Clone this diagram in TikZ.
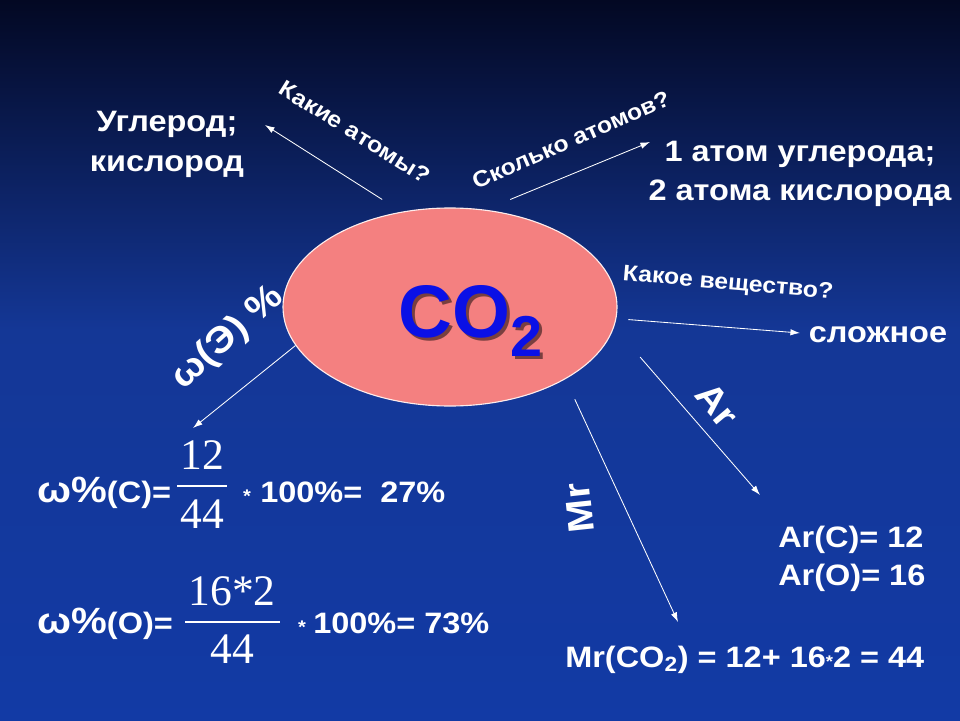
\documentclass[tikz,border=0pt]{standalone}
\usepackage{fontspec}
\setmainfont{Liberation Sans}[FakeStretch=1.1]
\newfontfamily\plainsans{Liberation Sans}
\newfontfamily\serifnum{Liberation Serif}
\usetikzlibrary{shapes.geometric,arrows.meta}
\definecolor{bgtop}{RGB}{3,8,35}
\definecolor{bgmid}{RGB}{20,55,150}
\definecolor{bgbot}{RGB}{18,58,165}
\definecolor{salmon}{RGB}{244,128,128}
\definecolor{coblue}{RGB}{10,16,230}
\tikzset{
  lbl/.style={text=white, font=\bfseries\fontsize{21}{28}\selectfont, inner sep=0pt},
  qlbl/.style={text=white, font=\bfseries\fontsize{16}{19}\selectfont, inner sep=0pt},
  biglbl/.style={text=white, font=\bfseries\fontsize{26}{30}\selectfont, inner sep=0pt},
  fraclbl/.style={text=white, font=\serifnum\fontsize{31}{34}\selectfont, inner sep=0pt},
  starlbl/.style={text=white, font=\bfseries\fontsize{13}{13}\selectfont, inner sep=0pt, anchor=base},
  bar/.style={white, line width=1.4pt},
}
\newcommand{\cotwo}{\plainsans\bfseries\fontsize{53}{60}\selectfont CO\raisebox{-14pt}{\fontsize{41}{41}\selectfont 2}}

\begin{document}
\begin{tikzpicture}[>={Latex[length=2.4mm,width=1.6mm]}]
\useasboundingbox (0,0) rectangle (24,18);
% background
\shade[top color=bgtop, bottom color=bgmid] (0,9.75) rectangle (24,18);
\shade[top color=bgmid, bottom color=bgbot] (0,0) rectangle (24,9.75);

\node[ellipse, draw=white!85!salmon, line width=.8pt, fill=salmon, minimum width=8.35cm, minimum height=4.95cm, inner sep=0pt] (mol) at (11.25,10.325) {};
\node[anchor=base west, text=black, opacity=.5, inner sep=0pt] (molshadow) at (10.03,9.5) {\cotwo};
\node[anchor=base west, text=coblue, inner sep=0pt] (molname) at (9.95,9.575) {\cotwo};

\node[lbl, align=center] (elements) at (4.175,14.39) {Углерод;\\кислород};
\node[lbl, align=center] (atomcount) at (20.0,13.66) {1 атом углерода;\\2 атома кислорода};
\node[lbl, anchor=base] (complex) at (21.95,9.45) {сложное};

\node[qlbl, rotate=-32] (qatoms) at (8.875,14.7) {Какие атомы?};
\node[qlbl, rotate=23.6] (qcount) at (14.275,14.5) {Сколько атомов?};
\node[qlbl, rotate=-5] (qkind) at (18.2,10.9) {Какое вещество?};
\node[biglbl, rotate=42] (qomega) at (5.7,9.55) {ω(Э) \%};
\node[biglbl, rotate=-50] (qar) at (17.925,7.875) {Ar};
\node[biglbl, rotate=96] (qmr) at (14.475,5.3) {Mr};

% mass fractions
\node[lbl, anchor=base west] (omegaC) at (0.925,5.45) {{\fontsize{26}{30}\selectfont ω\%}(C)=};
\node[fraclbl, anchor=base] (numC) at (5.05,6.275) {12};
\node[fraclbl, anchor=base] (denC) at (5.05,4.8) {44};
\draw[bar] (4.425,5.85) -- (5.675,5.85);
\node[starlbl] (starC) at (6.175,5.45) {*};
\node[lbl, anchor=base west] (resC) at (6.5,5.45) {100\%=\ \ 27\%};

\node[lbl, anchor=base west] (omegaO) at (0.925,2.175) {{\fontsize{26}{30}\selectfont ω\%}(O)=};
\node[fraclbl, anchor=base] (numO) at (5.8,2.875) {16*2};
\node[fraclbl, anchor=base] (denO) at (5.8,1.425) {44};
\draw[bar] (4.625,2.45) -- (7.0,2.45);
\node[starlbl] (starO) at (7.55,2.175) {*};
\node[lbl, anchor=base west] (resO) at (7.825,2.175) {100\%= 73\%};

\node[lbl, anchor=base west] (arC) at (19.45,4.325) {Ar(C)= 12};
\node[lbl, anchor=base west] (arO) at (19.45,3.375) {Ar(O)= 16};
\node[lbl, anchor=base west] (mrCO) at (14.125,1.325) {Mr(CO\textsubscript{2}) = 12+ 16{\fontsize{12}{12}\selectfont *}2 = 44};

\coordinate (tipElements) at (6.625,14.875);
\coordinate (tipCount) at (16.25,14.45);
\coordinate (tipKind) at (20.0,9.675);
\coordinate (tipAr) at (19.0,5.625);
\coordinate (tipMr) at (16.95,2.45);
\coordinate (tipOmega) at (4.825,7.3);

\foreach \ang/\gap/\tip in {117/.57/tipElements, 70/.67/tipCount, 356.6/.3/tipKind, 353.7/.99/tipAr, 328.8/.555/tipMr, 194.9/0/tipOmega}
    \draw[->, white, line width=.6pt, shorten <=\gap cm] (mol.\ang) -- (\tip);
\end{tikzpicture}
\end{document}
